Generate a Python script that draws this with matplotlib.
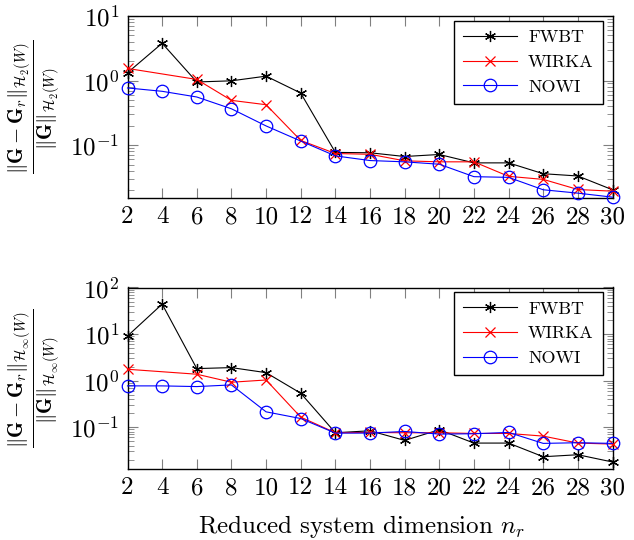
import numpy as np
import matplotlib
matplotlib.use("Agg")
import matplotlib.pyplot as plt
from matplotlib.ticker import LogLocator, NullFormatter

plt.rcParams['font.family'] = 'serif'
plt.rcParams['font.serif'] = ['cmr10', 'DejaVu Serif']
plt.rcParams['mathtext.fontset'] = 'cm'
plt.rcParams['axes.formatter.use_mathtext'] = True
plt.rcParams['axes.unicode_minus'] = False

# ---- data ----
x_all = [2, 4, 6, 8, 10, 12, 14, 16, 18, 20, 22, 24, 26, 28, 30]
x_wirka = [2, 6, 8, 10, 12, 14, 16, 18, 20, 22, 24, 26, 28, 30]

h2_fwbt = [1.32, 3.78, 0.95, 0.99, 1.17, 0.64, 0.077, 0.076, 0.0665, 0.0715,
           0.053, 0.053, 0.036, 0.0332, 0.0203]
h2_wirka = [1.54, 1.04, 0.493, 0.422, 0.118, 0.074, 0.072, 0.057, 0.055,
            0.055, 0.0328, 0.0294, 0.0205, 0.0193]
h2_nowi = [0.768, 0.681, 0.556, 0.365, 0.198, 0.1155, 0.068, 0.0576, 0.055,
           0.0505, 0.0324, 0.0316, 0.0203, 0.018, 0.0156]

hinf_fwbt = [9.06, 44.0, 1.81, 1.90, 1.48, 0.535, 0.0756, 0.0834, 0.0518,
             0.0877, 0.0454, 0.0454, 0.0231, 0.0255, 0.0178]
hinf_wirka = [1.75, 1.37, 0.921, 1.03, 0.164, 0.0756, 0.0769, 0.0756, 0.0756,
              0.0731, 0.0731, 0.0641, 0.0454, 0.0432]
hinf_nowi = [0.769, 0.769, 0.743, 0.807, 0.213, 0.153, 0.0744, 0.0744, 0.0807,
             0.0708, 0.072, 0.0769, 0.0447, 0.0462, 0.0447]

xticks = list(range(2, 31, 2))
series_names = ['FWBT', 'WIRKA', 'NOWI']

W, H = 634, 540
fig = plt.figure(figsize=(W / 100, H / 100), dpi=100)


def px_axes(left, top, right, bottom):
    return fig.add_axes([left / W, 1 - bottom / H, (right - left) / W, (bottom - top) / H])


ax1 = px_axes(127.5, 16, 612.5, 198)
ax2 = px_axes(127.5, 287.5, 612.5, 469)

common = dict(lw=0.8, clip_on=False, zorder=3)


def draw(ax, fw, wi, no, ylim, ylabel):
    ax.plot(x_all, fw, color='black', marker=(6, 2, 0), ms=8, mew=0.9,
            label=series_names[0], **common)
    ax.plot(x_wirka, wi, color='red', marker='x', ms=7, mew=0.9,
            label=series_names[1], **common)
    ax.plot(x_all, no, color='blue', marker='o', ms=9, mew=0.9, mfc='none',
            label=series_names[2], **common)
    ax.set_yscale('log')
    ax.set_ylim(*ylim)
    ax.set_xlim(2, 30)
    ax.set_xticks(xticks)
    ax.set_xticklabels([str(t) for t in xticks])
    ax.yaxis.set_major_locator(LogLocator(base=10, numticks=10))
    ax.yaxis.set_minor_locator(LogLocator(base=10, subs=np.arange(2, 10), numticks=10))
    ax.yaxis.set_minor_formatter(NullFormatter())
    ax.tick_params(which='both', direction='in', top=True, right=True,
                   color='0.5', labelsize=18, pad=6)
    ax.tick_params(which='major', length=7, width=0.8)
    ax.tick_params(which='minor', length=4.5, width=0.6)
    for s in ax.spines.values():
        s.set_linewidth(1.0)
    ax.set_ylabel(ylabel, fontsize=15)
    ax.yaxis.set_label_coords(-0.136, 0.5)
    leg = ax.legend(loc='upper right', bbox_to_anchor=(0.98, 0.975),
                    borderaxespad=0, fancybox=False, edgecolor='black',
                    framealpha=1, fontsize=13, handlelength=3.0,
                    handletextpad=0.6, borderpad=0.5, labelspacing=0.5)
    leg.get_frame().set_linewidth(1.0)


draw(ax1, h2_fwbt, h2_wirka, h2_nowi, (10 ** -1.82, 10),
     r'$\dfrac{\Vert\mathbf{G}-\mathbf{G}_r\Vert_{\mathcal{H}_2(W)}}{\Vert\mathbf{G}\Vert_{\mathcal{H}_2(W)}}$')
draw(ax2, hinf_fwbt, hinf_wirka, hinf_nowi, (10 ** -1.9, 100),
     r'$\dfrac{\Vert\mathbf{G}-\mathbf{G}_r\Vert_{\mathcal{H}_\infty(W)}}{\Vert\mathbf{G}\Vert_{\mathcal{H}_\infty(W)}}$')

fig.text(362 / W, 1 - 527 / H, r'Reduced system dimension $n_r$', ha='center',
         va='center', fontsize=18)

fig.savefig('out.png', dpi=100)
